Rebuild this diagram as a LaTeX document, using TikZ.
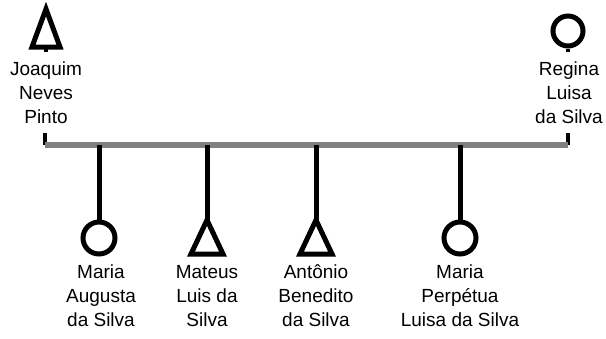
\documentclass[tikz,border=0pt]{standalone}
\usepackage{fontspec}
\setmainfont{Liberation Sans}
\begin{document}
\begin{tikzpicture}[x=1pt,y=-1pt,
  sym/.style={line width=5pt, black, line join=miter},
  link/.style={line width=5pt, black},
  stub/.style={line width=4pt, black},
  marr/.style={line width=5.5pt, color=gray},
  pname/.style={align=center, inner sep=0pt, font=\fontsize{19}{24}\selectfont}]
\useasboundingbox (0,0) rectangle (606,338);
% parents
\coordinate (jTop) at (46,9);
\draw[sym] (jTop) -- (32,47) -- (60,47) -- cycle;
\coordinate (jBase) at (46,47);
\coordinate (jFoot) at (46,52);
\draw[stub] (jBase) -- (jFoot);
\node[pname] (joaquim) at (46,93) {Joaquim\\Neves\\Pinto};
\node[draw, sym, circle, minimum size=30pt, inner sep=0pt] (regina) at (568,31) {};
\coordinate (rFoot) at (568,52);
\draw[stub] (regina.south) -- (rFoot);
\node[pname] (reginaT) at (569,93) {Regina\\Luisa\\da Silva};
% marriage line
\coordinate (mL) at (45,145);
\coordinate (mR) at (568,145);
\coordinate (mLs) at (45,133);
\coordinate (mRs) at (568,133);
\draw[stub] (mLs) -- (mL);
\draw[stub] (mRs) -- (mR);
\draw[marr] (mL) -- (mR);
% children
\coordinate (c1) at (99,145);
\coordinate (c2) at (207,145);
\coordinate (c3) at (316,145);
\coordinate (c4) at (460,145);
\node[draw, sym, circle, minimum size=32pt, inner sep=0pt] (mariaA) at (99,238) {};
\draw[link] (c1) -- (mariaA.north);
\coordinate (mateus) at (207,220);
\draw[sym] (mateus) -- (191,254) -- (223,254) -- cycle;
\draw[link] (c2) -- (mateus);
\coordinate (antonio) at (316,220);
\draw[sym] (antonio) -- (300,254) -- (332,254) -- cycle;
\draw[link] (c3) -- (antonio);
\node[draw, sym, circle, minimum size=32pt, inner sep=0pt] (mariaP) at (460,238) {};
\draw[link] (c4) -- (mariaP.north);
\node[pname] (t1) at (101,296) {Maria\\Augusta\\da Silva};
\node[pname] (t2) at (207,296) {Mateus\\Luis da\\Silva};
\node[pname] (t3) at (316,296) {Antônio\\Benedito\\da Silva};
\node[pname] (t4) at (460,296) {Maria\\Perpétua\\Luisa da Silva};
\end{tikzpicture}
\end{document}
